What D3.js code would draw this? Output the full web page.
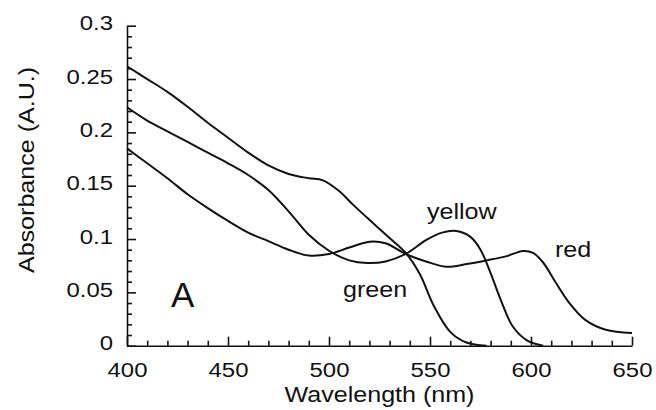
<!DOCTYPE html>
<html>
<head>
<meta charset="utf-8">
<script src="https://cdn.jsdelivr.net/npm/d3@7"></script>
<style>
  html, body { margin: 0; padding: 0; background: #fff; }
  svg { display: block; font-family: "Liberation Sans", Arial, Helvetica, sans-serif; }
  .curve { fill: none; stroke: #111; stroke-width: 2; }
  .axis path, .axis line { stroke: #111; stroke-width: 1.6; }
  .axis text { fill: #111; font-size: 21px; }
</style>
</head>
<body>
<svg id="chart" width="656" height="410"></svg>
<script>
// Absorption spectra, [wavelength (nm), absorbance (A.U.)]
const greenSpectrum = [
    [400, 0.262], [410, 0.250], [420, 0.238], [430, 0.224], [440, 0.209],
    [450, 0.195], [460, 0.181], [470, 0.169], [480, 0.161], [490, 0.157],
    [497, 0.155], [505, 0.145], [512, 0.132], [520, 0.118], [530, 0.101],
    [538, 0.087], [545, 0.067], [552, 0.037], [560, 0.013], [568, 0.003],
    [578, 0.0]
];
const yellowSpectrum = [
    [400, 0.2235], [410, 0.211], [420, 0.201], [430, 0.191], [440, 0.181],
    [450, 0.171], [460, 0.160], [470, 0.146], [480, 0.126], [490, 0.104],
    [500, 0.089], [510, 0.080], [519, 0.0775], [528, 0.079], [538, 0.086],
    [548, 0.099], [556, 0.106], [563, 0.1075], [570, 0.102], [575, 0.090],
    [580, 0.068], [585, 0.043], [591, 0.018], [598, 0.005], [606, 0.0]
];
const redSpectrum = [
    [400, 0.185], [410, 0.171], [420, 0.157], [430, 0.142], [440, 0.129],
    [450, 0.117], [460, 0.106], [470, 0.098], [480, 0.090], [490, 0.0845],
    [500, 0.086], [510, 0.092], [520, 0.0975], [528, 0.096], [538, 0.086],
    [548, 0.079], [558, 0.074], [568, 0.0765], [578, 0.080], [588, 0.084],
    [596, 0.0888], [601, 0.087], [606, 0.078], [612, 0.060], [619, 0.040],
    [627, 0.024], [637, 0.015], [650, 0.012]
];

const xMajorTicks = [400, 450, 500, 550, 600, 650];
const xMinorTicks = d3.range(410, 650, 10).filter(v => v % 50 !== 0);
const yMajorTicks = [0, 0.05, 0.1, 0.15, 0.2, 0.25, 0.3];
const yTickLabels = ["0", "0.05", "0.1", "0.15", "0.2", "0.25", "0.3"];
const yMinorTicks = d3.range(1, 30).filter(v => v % 5 !== 0).map(v => v / 100);

const curveLabels = [
    {text: "yellow", x: 427, y: 219},
    {text: "red", x: 555, y: 257},
    {text: "green", x: 343, y: 297}
];

// the original lettering is a bit wider than Arial
const SX = 1.14;

const svg = d3.select("#chart");
const margin = {top: 25.7, right: 24, bottom: 64.3, left: 127};
const width = +svg.attr("width");
const height = +svg.attr("height");

const xScale = d3.scaleLinear()
    .domain([400, 650])
    .range([margin.left, width - margin.right]);

const yScale = d3.scaleLinear()
    .domain([0, 0.3])
    .range([height - margin.bottom, margin.top]);

const bottom = height - margin.bottom;

// Minor ticks first so the main axis line sits on top
svg.append("g")
    .attr("class", "axis")
    .attr("transform", `translate(0, ${bottom})`)
    .call(d3.axisBottom(xScale).tickValues(xMinorTicks).tickSize(-5).tickFormat(""))
    .call(g => g.select(".domain").remove());

svg.append("g")
    .attr("class", "axis")
    .attr("transform", `translate(${margin.left}, 0)`)
    .call(d3.axisLeft(yScale).tickValues(yMinorTicks).tickSize(-5).tickFormat(""))
    .call(g => g.select(".domain").remove());

svg.append("g")
    .attr("class", "axis x-axis")
    .attr("transform", `translate(0, ${bottom})`)
    .call(d3.axisBottom(xScale)
        .tickValues(xMajorTicks)
        .tickSizeInner(-9)
        .tickSizeOuter(0)
        .tickPadding(16)
        .tickFormat(d3.format("d")))
    .call(g => g.selectAll("text").attr("transform", `scale(${SX},1)`));

svg.append("g")
    .attr("class", "axis y-axis")
    .attr("transform", `translate(${margin.left}, 0)`)
    .call(d3.axisLeft(yScale)
        .tickValues(yMajorTicks)
        .tickSizeInner(-9)
        .tickSizeOuter(0)
        .tickPadding(14 / SX)
        .tickFormat((d, i) => yTickLabels[i]))
    .call(g => g.selectAll("text")
        .attr("dy", "0.2em")
        .attr("transform", `scale(${SX},1)`));

// Axis titles
svg.append("text")
    .attr("transform", `translate(${(xScale.range()[0] + xScale.range()[1]) / 2}, 402) scale(${SX},1)`)
    .attr("text-anchor", "middle")
    .attr("font-size", 22)
    .attr("fill", "#111")
    .text("Wavelength (nm)");

svg.append("text")
    .attr("transform", `translate(34, 170) rotate(-90) scale(${SX},1)`)
    .attr("text-anchor", "middle")
    .attr("font-size", 22)
    .attr("fill", "#111")
    .text("Absorbance (A.U.)");

// Spectra
const line = d3.line()
    .x(d => xScale(d[0]))
    .y(d => yScale(d[1]))
    .curve(d3.curveCatmullRom.alpha(0.5));

svg.append("g")
    .selectAll("path")
    .data([greenSpectrum, yellowSpectrum, redSpectrum])
    .join("path")
    .attr("class", "curve")
    .attr("d", line);

// Curve names
svg.append("g")
    .selectAll("text")
    .data(curveLabels)
    .join("text")
    .attr("transform", d => `translate(${d.x}, ${d.y}) scale(${SX},1)`)
    .attr("font-size", 22)
    .attr("fill", "#111")
    .text(d => d.text);

// Panel letter
svg.append("text")
    .attr("x", 171)
    .attr("y", 307)
    .attr("font-size", 35)
    .attr("fill", "#111")
    .text("A");
</script>
</body>
</html>
